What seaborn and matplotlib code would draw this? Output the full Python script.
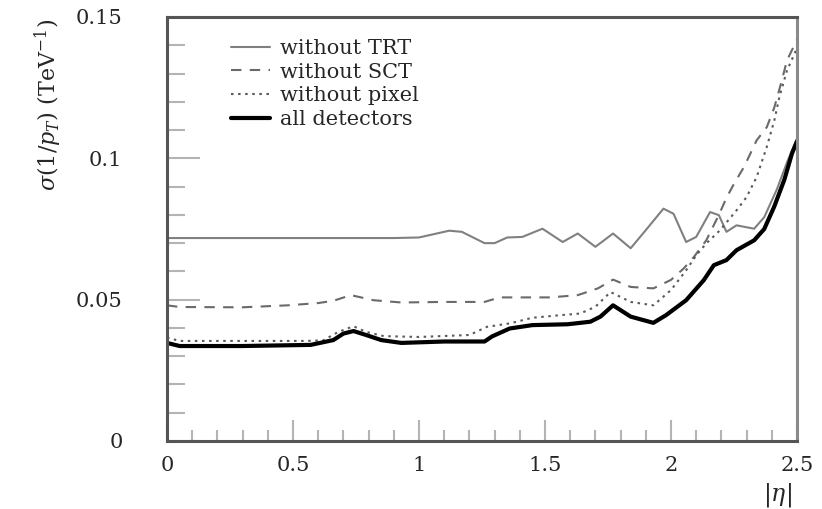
import numpy as np
import pandas as pd
import matplotlib
matplotlib.use('Agg')
import matplotlib.pyplot as plt
from matplotlib.ticker import MultipleLocator
import seaborn as sns

sns.set_theme(style="white")
plt.rcParams['font.family'] = ['DejaVu Serif']
plt.rcParams['mathtext.fontset'] = 'dejavuserif'

# |eta| sampling points and sigma(1/pT) values
eta_trt = [0, 0.3, 0.6, 0.9, 1.0, 1.12, 1.17, 1.26, 1.30, 1.35, 1.41, 1.49, 1.57, 1.63,
           1.70, 1.77, 1.84, 1.90, 1.97, 2.01, 2.06, 2.10, 2.155, 2.19, 2.22, 2.26,
           2.33, 2.37, 2.42, 2.46, 2.5]
sig_trt = [0.0718, 0.0718, 0.0718, 0.0718, 0.0720, 0.0744, 0.0740, 0.0700, 0.0700,
           0.0720, 0.0722, 0.0751, 0.0704, 0.0734, 0.0687, 0.0734, 0.0682, 0.0746,
           0.0822, 0.0804, 0.0704, 0.0722, 0.0810, 0.0799, 0.0740, 0.0763, 0.0751,
           0.0792, 0.0890, 0.0985, 0.1070]

eta_sct = [0, 0.05, 0.3, 0.48, 0.6, 0.66, 0.73, 0.82, 0.93, 1.1, 1.26, 1.32, 1.52,
           1.63, 1.71, 1.77, 1.84, 1.93, 2.0, 2.05, 2.09, 2.14, 2.19, 2.22, 2.25,
           2.29, 2.34, 2.38, 2.41, 2.44, 2.46, 2.5]
sig_sct = [0.0480, 0.0474, 0.0473, 0.0480, 0.0488, 0.0496, 0.0516, 0.0498, 0.0490,
           0.0492, 0.0492, 0.0508, 0.0508, 0.0516, 0.0540, 0.0571, 0.0545, 0.0540,
           0.0570, 0.0610, 0.0650, 0.0710, 0.0800, 0.0860, 0.0910, 0.0970, 0.1064,
           0.1110, 0.1180, 0.1276, 0.1346, 0.1420]

eta_pix = [0, 0.05, 0.3, 0.55, 0.62, 0.68, 0.74, 0.79, 0.86, 1.0, 1.2, 1.27, 1.36,
           1.45, 1.56, 1.64, 1.70, 1.76, 1.84, 1.93, 2.0, 2.06, 2.10, 2.14, 2.195,
           2.26, 2.30, 2.34, 2.38, 2.41, 2.43, 2.46, 2.5]
sig_pix = [0.0366, 0.0354, 0.0354, 0.0354, 0.0356, 0.0386, 0.0406, 0.0386, 0.0371,
           0.0368, 0.0375, 0.0404, 0.0416, 0.0436, 0.0445, 0.0451, 0.0475, 0.0527,
           0.0492, 0.0480, 0.0534, 0.0604, 0.0657, 0.0699, 0.0746, 0.0816, 0.0863,
           0.0934, 0.1040, 0.1134, 0.1217, 0.1310, 0.1390]

eta_all = [0, 0.05, 0.3, 0.57, 0.66, 0.70, 0.74, 0.79, 0.85, 0.93, 1.1, 1.26, 1.29,
           1.36, 1.45, 1.59, 1.68, 1.72, 1.77, 1.84, 1.93, 1.98, 2.06, 2.13, 2.17,
           2.22, 2.26, 2.33, 2.37, 2.41, 2.45, 2.48, 2.5]
sig_all = [0.0347, 0.0336, 0.0336, 0.0340, 0.0357, 0.0380, 0.0389, 0.0375, 0.0357,
           0.0347, 0.0352, 0.0352, 0.0370, 0.0398, 0.0410, 0.0413, 0.0422, 0.0440,
           0.0480, 0.0440, 0.0418, 0.0445, 0.0498, 0.0569, 0.0622, 0.0640, 0.0675,
           0.0710, 0.0750, 0.0830, 0.0925, 0.1017, 0.1060]

labels = ['without TRT', 'without SCT', 'without pixel', 'all detectors']

fig = plt.figure(figsize=(8.22, 5.09), dpi=100)
ax = fig.add_axes([167/822, 1-441/509, 630/822, 424/509])

series = [
    (eta_trt, sig_trt, labels[0], '#808080', '-', 1.5),
    (eta_sct, sig_sct, labels[1], '#6a6a6a', (0, (5, 4)), 1.5),
    (eta_pix, sig_pix, labels[2], '#5a5a5a', (0, (1.2, 2.2)), 1.5),
    (eta_all, sig_all, labels[3], '#000000', '-', 3.0),
]
for xs, ys, lab, col, ls, lw in series:
    df = pd.DataFrame({'eta': xs, 'sigma': ys})
    sns.lineplot(data=df, x='eta', y='sigma', ax=ax, color=col, lw=lw,
                 linestyle=ls, label=lab, estimator=None, sort=False)

ax.set_xlim(0, 2.5)
ax.set_ylim(0, 0.15)
ax.xaxis.set_major_locator(MultipleLocator(0.5))
ax.xaxis.set_minor_locator(MultipleLocator(0.1))
ax.yaxis.set_major_locator(MultipleLocator(0.05))
ax.yaxis.set_minor_locator(MultipleLocator(0.01))
ax.set_xticks([0, 0.5, 1, 1.5, 2, 2.5], ['0', '0.5', '1', '1.5', '2', '2.5'])
ax.set_yticks([0, 0.05, 0.1, 0.15], ['0', '0.05', '0.1', '0.15'])

tick_col = '#b4b4b4'
ax.tick_params(axis='x', which='major', direction='in', length=15, width=1.5,
               color=tick_col, labelsize=15, pad=11, bottom=True, top=False)
ax.tick_params(axis='x', which='minor', direction='in', length=8, width=1.5,
               color=tick_col, bottom=True, top=False)
ax.tick_params(axis='y', which='major', direction='in', length=24, width=1.5,
               color=tick_col, labelsize=15, pad=32, left=True, right=False)
ax.tick_params(axis='y', which='minor', direction='in', length=13, width=1.5,
               color=tick_col, left=True, right=False)

for side in ['left', 'bottom', 'top']:
    ax.spines[side].set_color('#555555')
    ax.spines[side].set_linewidth(2.2)
ax.spines['right'].set_color('#8a8a8a')
ax.spines['right'].set_linewidth(2.2)

ax.set_xlabel(r'$|\eta|$', fontsize=17)
ax.xaxis.set_label_coords((777-167)/630, -(495-441)/424)
ax.xaxis.label.set_verticalalignment('center')
ax.set_ylabel(r'$\sigma(1/p_T)$ (TeV$^{-1}$)', fontsize=16, loc='top')
ax.yaxis.set_label_coords(-(167-64)/630, 0.995)

ax.legend(loc='upper left', bbox_to_anchor=((231-167)/630, 0.948), frameon=False,
          fontsize=15, handlelength=1.85, handletextpad=0.5, labelspacing=0.22,
          borderaxespad=0, borderpad=0)

fig.savefig('out.png', dpi=100)
